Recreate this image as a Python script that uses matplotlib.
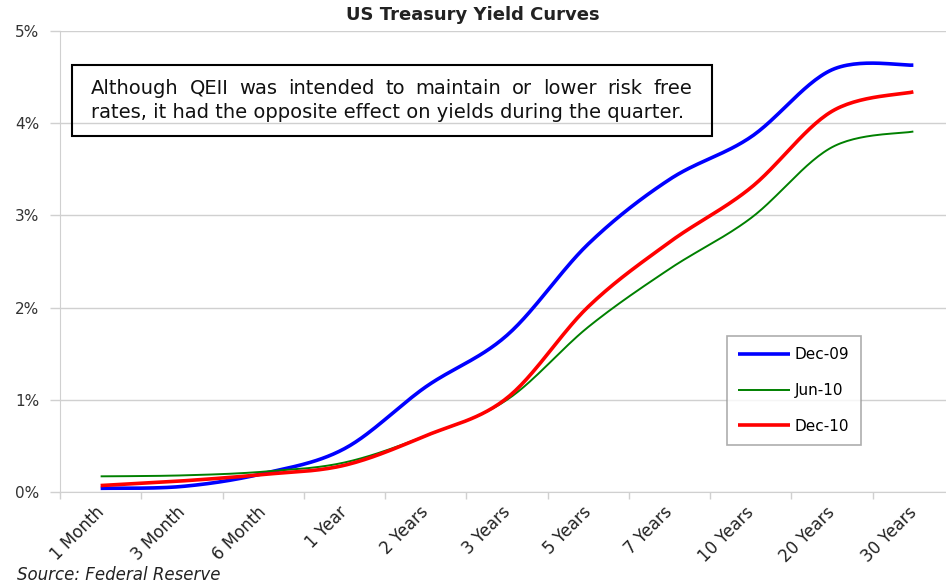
import numpy as np
import matplotlib
matplotlib.use("Agg")
import matplotlib.pyplot as plt
import matplotlib.transforms as mtransforms
from matplotlib.patches import Rectangle
from matplotlib.ticker import FuncFormatter

maturities = ["1 Month", "3 Month", "6 Month", "1 Year", "2 Years", "3 Years",
              "5 Years", "7 Years", "10 Years", "20 Years", "30 Years"]
dec09 = [0.04, 0.06, 0.20, 0.47, 1.14, 1.70, 2.69, 3.39, 3.85, 4.58, 4.63]
jun10 = [0.17, 0.18, 0.22, 0.32, 0.61, 1.00, 1.79, 2.42, 2.97, 3.74, 3.91]
dec10 = [0.07, 0.12, 0.19, 0.29, 0.61, 1.02, 2.01, 2.71, 3.30, 4.13, 4.34]

note_line1 = "Although QEII was intended to maintain or lower risk free"
note_line2 = "rates, it had the opposite effect on yields during the quarter."


def smooth(y, n=30):
    # Bezier smoothing (Catmull-Rom style) like spreadsheet "smoothed lines"
    y = np.asarray(y, float)
    x = np.arange(len(y), dtype=float)
    p = np.column_stack([x, y])
    pts = np.vstack([p[0], p, p[-1]])
    out = []
    t = np.linspace(0, 1, n)[:, None]
    for i in range(1, len(pts) - 2):
        p0, p1, p2, p3 = pts[i - 1], pts[i], pts[i + 1], pts[i + 2]
        c1 = p1 + (p2 - p0) / 6
        c2 = p2 - (p3 - p1) / 6
        seg = ((1 - t) ** 3) * p1 + 3 * ((1 - t) ** 2) * t * c1 + 3 * (1 - t) * t ** 2 * c2 + t ** 3 * p2
        out.append(seg if i == 1 else seg[1:])
    out = np.vstack(out)
    return out[:, 0], out[:, 1]


W, H = 946, 585
fig = plt.figure(figsize=(W / 100, H / 100), dpi=100)
ax = fig.add_axes([60 / W, 93 / H, 894 / W, 461 / H])

grid_c = "#d0d0d0"
for vals, col, lw, lab in [(dec09, "#0000ff", 2.6, "Dec-09"),
                           (jun10, "#008000", 1.4, "Jun-10"),
                           (dec10, "#ff0000", 2.6, "Dec-10")]:
    xs, ys = smooth(vals)
    ax.plot(xs, ys, color=col, lw=lw, label=lab, solid_capstyle="butt")

ax.set_xlim(-0.5, len(maturities) - 0.5)
ax.set_ylim(0, 5)
ax.set_yticks(range(6))
ax.yaxis.set_major_formatter(FuncFormatter(lambda v, _: f"{int(v)}%"))
ax.grid(axis="y", color=grid_c, lw=1)
ax.set_axisbelow(True)

ax.set_xticks(np.arange(len(maturities) + 1) - 0.5)
ax.set_xticklabels([])
ax.set_xticks(np.arange(len(maturities)), minor=True)
ax.set_xticklabels(maturities, minor=True, rotation=45, ha="right", va="top",
                   rotation_mode="anchor", fontsize=12, color="#222222")
ax.tick_params(axis="x", which="minor", length=0, pad=8)
ax.tick_params(axis="x", which="major", length=5, color=grid_c, width=1)
ax.tick_params(axis="y", length=7, color=grid_c, width=1, labelsize=11,
               labelcolor="#333333", pad=8)
shift = mtransforms.ScaledTranslation(-6 / 100, 0, fig.dpi_scale_trans)
for lbl in ax.xaxis.get_minorticklabels():
    lbl.set_transform(lbl.get_transform() + shift)

for s in ["top", "right"]:
    ax.spines[s].set_visible(False)
ax.spines["left"].set_color(grid_c)
ax.spines["bottom"].set_color(grid_c)

leg = ax.legend(loc="upper left", bbox_to_anchor=((727 - 60) / 894, (492 - 336) / 461),
                frameon=True, fancybox=False, edgecolor="#999999", fontsize=11,
                handlelength=3.4, handletextpad=0.3, labelspacing=1.35,
                borderpad=0.75, borderaxespad=0)
leg.get_frame().set_linewidth(1.2)

fig.text(473 / W, 1 - 15 / H, "US Treasury Yield Curves", ha="center", va="center",
         fontsize=13, fontweight="bold", color="#222222")

# note box
fig.patches.append(Rectangle((72 / W, 1 - 136 / H), (712 - 72) / W, (136 - 65) / H,
                             transform=fig.transFigure, fill=False, ec="black", lw=1.5))

# justified first line
renderer = fig.canvas.get_renderer()
words = note_line1.split()
x_left, x_right = 91, 692
y1, y2 = 1 - 88 / H, 1 - 113 / H
texts = [fig.text(0, y1, w, fontsize=14, va="center", ha="left", color="#111111") for w in words]
widths = [t.get_window_extent(renderer).width for t in texts]
gap = (x_right - x_left - sum(widths)) / (len(words) - 1)
x = x_left
for t, w in zip(texts, widths):
    t.set_x(x / W)
    x += w + gap
fig.text(x_left / W, y2, note_line2, fontsize=14, va="center", ha="left", color="#111111")

fig.text(17 / W, 1 - 575 / H, "Source: Federal Reserve", fontsize=12, style="italic",
         va="center", ha="left", color="#222222")

fig.savefig("out.png", dpi=100)
